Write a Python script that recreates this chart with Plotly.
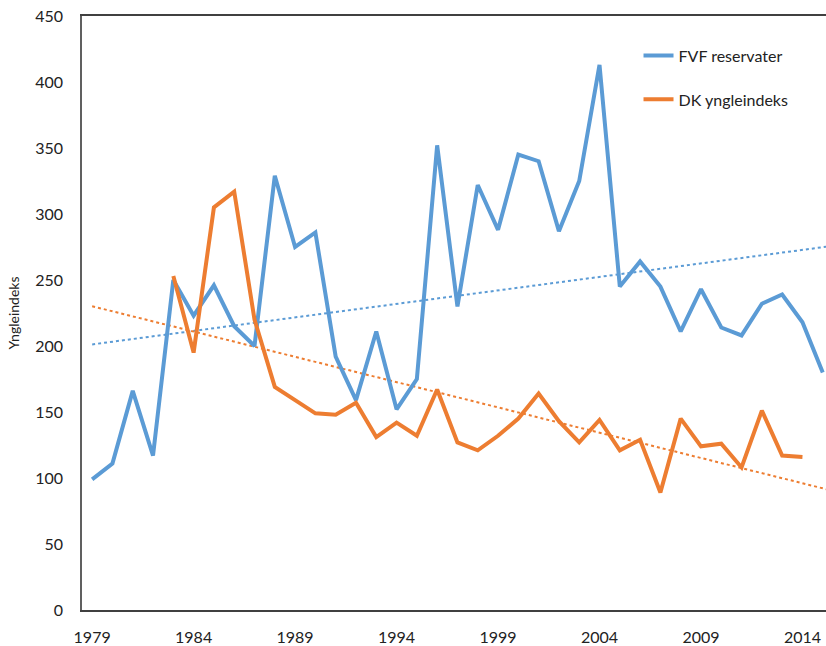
import numpy as np
import plotly.graph_objects as go

years = list(range(1979, 2016))
fvf = [99, 111, 166, 117, 250, 223, 246, 215, 200, 329, 275, 286, 192, 159, 211, 152,
       175, 352, 230, 322, 288, 345, 340, 287, 325, 413, 245, 264, 245, 211, 243, 214,
       208, 232, 239, 218, 180]
dk_years = list(range(1983, 2015))
dk = [253, 195, 305, 317, 220, 169, 159, 149, 148, 157, 131, 142, 132, 167, 127, 121,
      132, 145, 164, 143, 127, 144, 121, 129, 89, 145, 124, 126, 108, 151, 117, 116]
tick_years = list(range(1979, 2015, 5))

blue = "#5B9BD5"
orange = "#ED7D31"
font = "Lato, Open Sans, sans-serif"

pb = np.polyfit(np.array(years, dtype=float), np.array(fvf, dtype=float), 1)
po = np.polyfit(np.array(dk_years, dtype=float), np.array(dk, dtype=float), 1)
x_tr = np.array([1979, 2015.5])

fig = go.Figure()
fig.add_trace(go.Scatter(x=x_tr, y=np.polyval(pb, x_tr), mode="lines",
                         line=dict(color=blue, width=2, dash="dot"), showlegend=False))
fig.add_trace(go.Scatter(x=x_tr, y=np.polyval(po, x_tr), mode="lines",
                         line=dict(color=orange, width=2, dash="dot"), showlegend=False))
fig.add_trace(go.Scatter(x=years, y=fvf, mode="lines", name="FVF reservater",
                         line=dict(color=blue, width=4), legendgroup="a"))
fig.add_trace(go.Scatter(x=dk_years, y=dk, mode="lines", name="DK yngleindeks",
                         line=dict(color=orange, width=4), legendgroup="b"))

fig.update_layout(
    width=826, height=646,
    margin=dict(l=82, r=0, t=16, b=36),
    paper_bgcolor="white", plot_bgcolor="white",
    font=dict(family=font, size=16, color="#222222"),
    showlegend=True,
    legend=dict(x=0.748, y=0.962, xanchor="left", yanchor="top",
                bgcolor="rgba(0,0,0,0)", tracegroupgap=20,
                font=dict(size=16, family=font, color="#222222")),
    xaxis=dict(range=[1978.5, 2015.16], tickvals=tick_years, ticktext=[str(t) for t in tick_years],
               showgrid=False, zeroline=False, showline=True, linecolor="#404040", linewidth=1.5,
               mirror=True, ticks="", ticklabelstandoff=12, automargin=False),
    yaxis=dict(range=[0, 450], tickvals=list(range(0, 451, 50)), showgrid=False, zeroline=False,
               showline=True, linecolor="#606060", linewidth=1.5, ticks="", ticklabelstandoff=14,
               automargin=False,
               title=dict(text="Yngleindeks", font=dict(size=14, family=font), standoff=12)),
)

fig.write_html("out.html", config={"displayModeBar": False},
               post_script="document.body.style.margin='0';document.body.style.overflow='hidden';")
